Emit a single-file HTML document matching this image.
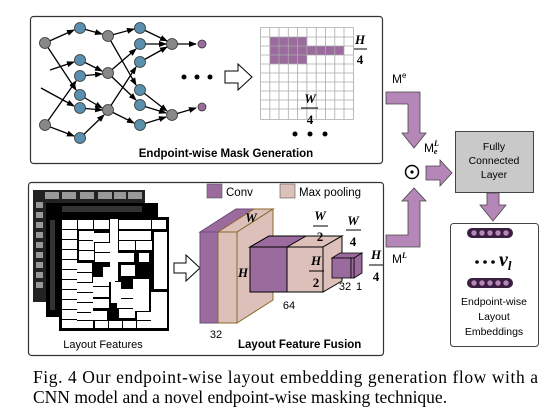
<!DOCTYPE html>
<html><head><meta charset="utf-8"><style>
body{margin:0;background:#fff;width:545px;height:410px;overflow:hidden}
svg{display:block}
.s{font-family:"Liberation Sans",sans-serif}
.r{font-family:"Liberation Serif",serif;font-style:italic;font-weight:bold}
.n{font-family:"Liberation Serif",serif;font-weight:bold}
</style></head><body>
<svg width="545" height="410" viewBox="0 0 545 410" xmlns="http://www.w3.org/2000/svg">
<defs>
<marker id="a" markerWidth="8" markerHeight="8" refX="7" refY="4" orient="auto" markerUnits="userSpaceOnUse"><path d="M0,1 L8,4 L0,7z" fill="#000"/></marker>
</defs>
<rect x="30.5" y="16.5" width="352" height="147" rx="3" fill="#fff" stroke="#333" stroke-width="1.2"/>
<g stroke="#000" stroke-width="1.3" fill="none" marker-end="url(#a)">
<line x1="45" y1="43" x2="74" y2="30"/><line x1="80" y1="28" x2="102" y2="34"/><line x1="108" y1="36" x2="134" y2="29"/>
<line x1="140" y1="28" x2="167" y2="41"/><line x1="140" y1="44" x2="166" y2="44"/><line x1="172" y1="44" x2="196" y2="44"/>
<line x1="45" y1="43" x2="76" y2="90"/><line x1="50" y1="70" x2="74" y2="62"/><line x1="41" y1="88" x2="74" y2="106"/>
<line x1="80" y1="60" x2="102" y2="71"/><line x1="80" y1="76" x2="102" y2="74"/><line x1="108" y1="36" x2="136" y2="85"/>
<line x1="108" y1="73" x2="136" y2="49"/><line x1="108" y1="73" x2="136" y2="100"/><line x1="140" y1="62" x2="167" y2="47"/>
<line x1="45" y1="125" x2="76" y2="81"/><line x1="45" y1="125" x2="74" y2="136"/><line x1="80" y1="95" x2="102" y2="108"/>
<line x1="80" y1="108" x2="102" y2="110"/><line x1="80" y1="138" x2="104" y2="115"/><line x1="108" y1="110" x2="136" y2="67"/>
<line x1="108" y1="110" x2="134" y2="123"/><line x1="140" y1="90" x2="167" y2="111"/><line x1="140" y1="105" x2="166" y2="113"/>
<line x1="140" y1="125" x2="166" y2="117"/><line x1="172" y1="115" x2="196" y2="108"/>
</g>
<g stroke="#333" stroke-width="0.8">
<g fill="#5a8fad"><circle cx="80" cy="28" r="5.5"/><circle cx="140" cy="28" r="5.5"/><circle cx="80" cy="60" r="5.5"/><circle cx="80" cy="76" r="5.5"/><circle cx="140" cy="44" r="5.5"/><circle cx="140" cy="62" r="5.5"/><circle cx="80" cy="95" r="5.5"/><circle cx="80" cy="108" r="5.5"/><circle cx="140" cy="90" r="5.5"/><circle cx="140" cy="105" r="5.5"/><circle cx="140" cy="125" r="5.5"/><circle cx="80" cy="138" r="5.5"/></g>
<g fill="#888"><circle cx="45" cy="43" r="5.5"/><circle cx="108" cy="36" r="5.5"/><circle cx="108" cy="73" r="5.5"/><circle cx="172" cy="44" r="5.5"/><circle cx="45" cy="125" r="5.5"/><circle cx="108" cy="110" r="5.5"/><circle cx="172" cy="115" r="5.5"/></g>
<g fill="#9b6b9e"><circle cx="202" cy="44" r="4"/><circle cx="202" cy="107" r="4"/></g>
</g>
<g fill="#000"><circle cx="184" cy="77" r="2.5"/><circle cx="197" cy="77" r="2.5"/><circle cx="210" cy="77" r="2.5"/>
<circle cx="295" cy="134" r="2.5"/><circle cx="310" cy="134" r="2.5"/><circle cx="325" cy="134" r="2.5"/></g>
<path d="M225,71 H238 V64 L252,77 L238,90 V83 H225z" fill="#fff" stroke="#000" stroke-width="1"/>
<g fill="#9b6b9e"><rect x="270" y="37" width="37" height="9"/><rect x="270" y="46" width="74" height="9"/><rect x="270" y="55" width="37" height="9"/></g>
<g stroke="#aaa" stroke-width="0.8" fill="none">
<path d="M260.5,27.5h93M260.5,37h93M260.5,46h93M260.5,55h93M260.5,64h93M260.5,73h93M260.5,82h93M260.5,91h93M260.5,100h93M260.5,109h93M260.5,119.5h93"/>
<path d="M260.5,27.5v92M269.8,27.5v92M279,27.5v92M288.3,27.5v92M297.6,27.5v92M306.9,27.5v92M316.2,27.5v92M325.5,27.5v92M334.8,27.5v92M344,27.5v92M353.5,27.5v92"/>
</g>
<text class="r" x="360" y="44" font-size="13" text-anchor="middle">H</text><line x1="354" y1="49" x2="367" y2="49" stroke="#000"/><text class="n" x="360" y="64" font-size="13" text-anchor="middle">4</text>
<text class="r" x="310" y="103" font-size="13" text-anchor="middle">W</text><line x1="301" y1="108" x2="318" y2="108" stroke="#000"/><text class="n" x="310" y="124" font-size="13" text-anchor="middle">4</text>
<text class="s" x="226" y="157" font-size="11.5" font-weight="bold" text-anchor="middle">Endpoint-wise Mask Generation</text>
<rect x="28.5" y="182.5" width="355" height="173" rx="3" fill="#fff" stroke="#333" stroke-width="1.2"/>
<rect x="33" y="190" width="112" height="112" fill="#222"/>
<g fill="#999"><rect x="45" y="192" width="14" height="7"/><rect x="62" y="192" width="14" height="7"/><rect x="80" y="192" width="14" height="7"/><rect x="98" y="192" width="14" height="7"/><rect x="114" y="192" width="12" height="7"/><rect x="128" y="192" width="14" height="7"/>
<rect x="36" y="202" width="7" height="6"/><rect x="36" y="212" width="7" height="6"/><rect x="36" y="222" width="7" height="6"/><rect x="36" y="232" width="7" height="6"/><rect x="36" y="242" width="7" height="6"/><rect x="36" y="252" width="7" height="6"/><rect x="36" y="262" width="7" height="6"/><rect x="36" y="272" width="7" height="6"/><rect x="36" y="282" width="7" height="6"/></g>
<rect x="46" y="203" width="112" height="114" fill="#000"/>
<g fill="#333"><rect x="50" y="220" width="5" height="90"/><rect x="62" y="206" width="80" height="6"/></g>
<rect x="59" y="217" width="110" height="114" fill="#000"/>
<g fill="#fff">
<rect x="62" y="220" width="15" height="9"/><rect x="62" y="230" width="15" height="9"/><rect x="62" y="240" width="15" height="9"/><rect x="62" y="250" width="15" height="9"/><rect x="62" y="260" width="15" height="9"/><rect x="62" y="270" width="15" height="9"/><rect x="62" y="280" width="15" height="9"/><rect x="62" y="290" width="15" height="9"/><rect x="62" y="300" width="15" height="9"/><rect x="62" y="310" width="15" height="9"/><rect x="62" y="320" width="15" height="8"/>
<rect x="78" y="220" width="15" height="9"/><rect x="79" y="231" width="15" height="9"/><rect x="79" y="241" width="15" height="9"/><rect x="79" y="251" width="15" height="9"/><rect x="77" y="263" width="15" height="9"/><rect x="77" y="273" width="15" height="9"/><rect x="77" y="283" width="16" height="9"/><rect x="77" y="293" width="16" height="9"/><rect x="77" y="303" width="16" height="9"/><rect x="77" y="313" width="16" height="7"/><rect x="77" y="321" width="16" height="7"/>
<rect x="94" y="220" width="15" height="9"/><rect x="93" y="233" width="16" height="9"/><rect x="95" y="243" width="15" height="9"/><rect x="95" y="253" width="15" height="9"/><rect x="93" y="277" width="16" height="9"/><rect x="93" y="287" width="16" height="10"/><rect x="93" y="299" width="16" height="9"/><rect x="91" y="311" width="16" height="9"/><rect x="95" y="321" width="13" height="7"/>
<rect x="110" y="219" width="8" height="62"/><rect x="111" y="282" width="10" height="21"/><rect x="109" y="321" width="13" height="7"/><rect x="103" y="267" width="12" height="15"/>
<rect x="119" y="220" width="16" height="9"/><rect x="119" y="231" width="16" height="9"/><rect x="119" y="241" width="16" height="9"/><rect x="118" y="253" width="16" height="9"/><rect x="121" y="265" width="14" height="11"/><rect x="119" y="289" width="16" height="9"/><rect x="117" y="299" width="16" height="9"/><rect x="119" y="309" width="16" height="9"/><rect x="123" y="321" width="13" height="7"/>
<rect x="135" y="220" width="16" height="9"/><rect x="135" y="231" width="16" height="9"/><rect x="136" y="241" width="16" height="9"/><rect x="139" y="253" width="10" height="9"/><rect x="133" y="279" width="16" height="32"/><rect x="137" y="312" width="14" height="8"/><rect x="137" y="321" width="14" height="7"/>
<rect x="152" y="220" width="14" height="9"/><rect x="154" y="232" width="13" height="57"/><rect x="151" y="292" width="16" height="36"/>
</g>
<text class="s" x="103" y="348" font-size="11" text-anchor="middle">Layout Features</text>
<path d="M174,263 H186 V255 L200,268 L186,281 V273 H174z" fill="#fff" stroke="#000" stroke-width="1"/>
<rect x="207" y="184" width="15" height="14" fill="#9b6b9e" stroke="#555" stroke-width="0.6"/><text class="s" x="226" y="196" font-size="11.5">Conv</text>
<rect x="280" y="184" width="15" height="14" fill="#dcc0b9" stroke="#555" stroke-width="0.6"/><text class="s" x="299" y="196" font-size="11.5">Max pooling</text>
<g stroke-width="1">
<path d="M200,232 L236,209 L273,209 L237,232z" fill="#9b6b9e" stroke="#6a4a7a"/>
<path d="M218,232 L254,209 L273,209 L237,232z" fill="#dcc0b9" stroke="#8a6a2a"/>
<path d="M237,232 L273,209 L273,300 L237,323z" fill="#dcc0b9" stroke="#8a6a2a"/>
<rect x="200" y="232" width="18" height="91" fill="#9b6b9e" stroke="#6a4a7a"/>
<rect x="218" y="232" width="19" height="91" fill="#dcc0b9" stroke="#8a6a2a"/>
</g>
<text class="r" x="251" y="222" font-size="13" text-anchor="middle">W</text>
<text class="r" x="243" y="277" font-size="13" text-anchor="middle">H</text>
<text class="s" x="216" y="338" font-size="11" text-anchor="middle">32</text>
<g stroke="#000" stroke-width="1">
<path d="M250,247 L269,236 L342,236 L323,247z" fill="#dcc0b9"/>
<path d="M250,247 L269,236 L306,236 L287,247z" fill="#9b6b9e"/>
<path d="M323,247 L342,236 L342,281 L323,292z" fill="#dcc0b9"/>
<rect x="250" y="247" width="37" height="45" fill="#9b6b9e"/>
<rect x="287" y="247" width="36" height="45" fill="#dcc0b9"/>
</g>
<text class="s" x="289" y="309" font-size="11" text-anchor="middle">64</text>
<text class="r" x="320" y="220" font-size="13" text-anchor="middle">W</text><line x1="313" y1="226" x2="328" y2="226" stroke="#000"/><text class="n" x="320" y="241" font-size="13" text-anchor="middle">2</text>
<text class="r" x="316" y="265" font-size="13" text-anchor="middle">H</text><line x1="309" y1="271" x2="324" y2="271" stroke="#000"/><text class="n" x="316" y="287" font-size="13" text-anchor="middle">2</text>
<g stroke="#000" stroke-width="0.8">
<path d="M332,258 L340,253 L362,253 L354,258z" fill="#9b6b9e"/>
<path d="M354,258 L362,253 L362,273 L354,278z" fill="#9b6b9e"/>
<rect x="332" y="258" width="19" height="20" fill="#9b6b9e"/>
<rect x="351" y="258" width="3" height="20" fill="#9b6b9e"/>
</g>
<text class="s" x="345" y="290" font-size="11" text-anchor="middle">32</text><text class="s" x="359" y="290" font-size="11" text-anchor="middle">1</text>
<text class="r" x="353" y="225" font-size="13" text-anchor="middle">W</text><line x1="346" y1="230" x2="361" y2="230" stroke="#000"/><text class="n" x="353" y="246" font-size="13" text-anchor="middle">4</text>
<text class="r" x="376" y="259" font-size="13" text-anchor="middle">H</text><line x1="369" y1="265" x2="383" y2="265" stroke="#000"/><text class="n" x="376" y="281" font-size="13" text-anchor="middle">4</text>
<text class="s" x="238" y="348" font-size="11.5" font-weight="bold">Layout Feature Fusion</text>
<g fill="#b587b8" stroke="#444" stroke-width="0.8">
<path d="M386,92 H420 V133 H426 L414,148 L402,133 H408 V104 H386z"/>
<path d="M386,247 H420 V201 H426 L414,188 L402,201 H408 V235 H386z"/>
<path d="M426,166 H440 V160 L452,173 L440,186 V180 H426z"/>
<path d="M487,193 H499 V205 H506 L493,221 L480,205 H487z"/>
</g>
<text class="s" x="392" y="83" font-size="12">M<tspan font-size="8" dy="-5">e</tspan></text>
<text class="s" x="392" y="263" font-size="12">M<tspan font-size="8" dy="-5" class="r">L</tspan></text>
<text class="s" x="424" y="152" font-size="12">M<tspan font-size="8" dy="-6" class="r">L</tspan><tspan font-size="8" dx="-5" dy="8" class="r">e</tspan></text>
<circle cx="412" cy="172" r="6.5" fill="none" stroke="#000" stroke-width="1.5"/><circle cx="412" cy="172" r="1.6" fill="#000"/>
<rect x="455.5" y="131.5" width="78" height="61" fill="#c9c9c9" stroke="#444"/>
<text class="s" font-size="10.5" text-anchor="middle"><tspan x="494" y="150">Fully</tspan><tspan x="494" y="164">Connected</tspan><tspan x="494" y="178">Layer</tspan></text>
<rect x="450.5" y="223.5" width="88" height="123" rx="3" fill="#fff" stroke="#444"/>
<g><rect x="467" y="228" width="46" height="10" rx="5" fill="#3a2040"/>
<g fill="#b587b8"><circle cx="474" cy="233" r="2.7"/><circle cx="482" cy="233" r="2.7"/><circle cx="490" cy="233" r="2.7"/><circle cx="498" cy="233" r="2.7"/><circle cx="506" cy="233" r="2.7"/></g>
<rect x="467" y="278" width="46" height="10" rx="5" fill="#3a2040"/>
<g fill="#b587b8"><circle cx="474" cy="283" r="2.7"/><circle cx="482" cy="283" r="2.7"/><circle cx="490" cy="283" r="2.7"/><circle cx="498" cy="283" r="2.7"/><circle cx="506" cy="283" r="2.7"/></g></g>
<g fill="#000"><circle cx="477" cy="262" r="1.8"/><circle cx="485" cy="262" r="1.8"/><circle cx="493" cy="262" r="1.8"/></g>
<text x="499" y="266" font-family="Liberation Serif,serif" font-style="italic" font-weight="bold" font-size="20">v<tspan font-size="13" dy="4">l</tspan></text>
<text class="s" font-size="10.5" text-anchor="middle"><tspan x="494" y="305">Endpoint-wise</tspan><tspan x="494" y="320">Layout</tspan><tspan x="494" y="335">Embeddings</tspan></text>
<text font-family="Liberation Serif,serif" font-size="17.5" x="33" y="383" textLength="505" lengthAdjust="spacing">Fig. 4 Our endpoint-wise layout embedding generation flow with a</text>
<text font-family="Liberation Serif,serif" font-size="17.5" x="33" y="403">CNN model and a novel endpoint-wise masking technique.</text>
</svg>
</body></html>
